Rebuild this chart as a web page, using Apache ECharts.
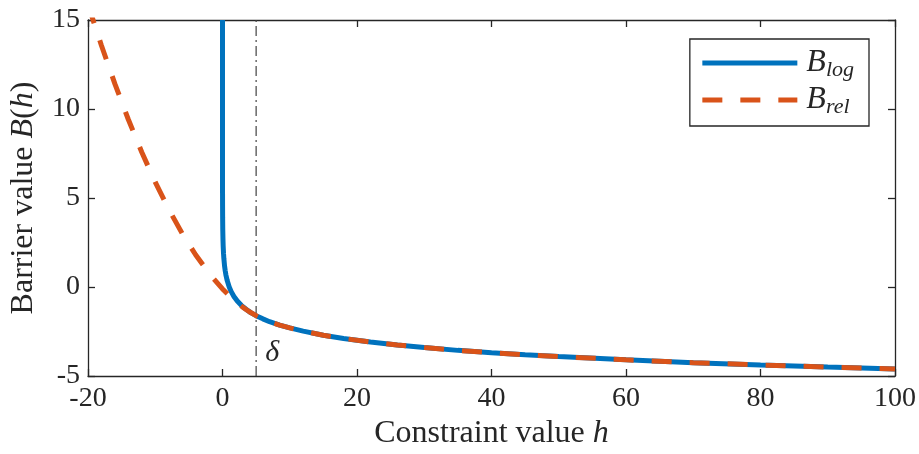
<!DOCTYPE html>
<html>
<head>
<meta charset="utf-8">
<script src="https://cdn.jsdelivr.net/npm/echarts@6/dist/echarts.min.js"></script>
<style>
  html, body { margin: 0; padding: 0; background: #fff; }
  #chart { width: 919px; height: 454px; }
</style>
</head>
<body>
<div id="chart"></div>
<script>
// values
const hLog = [0.0000003, 0.000001, 0.00001, 0.0001, 0.001, 0.005, 0.01, 0.02, 0.04, 0.07, 0.1, 0.15, 0.2, 0.3, 0.4, 0.5, 0.7, 1, 1.3, 1.7, 2.2, 2.8, 3.5, 4.2, 5, 6, 7, 8.5, 10, 12, 15, 18, 22, 26, 30, 35, 40, 45, 50, 60, 70, 80, 90, 100];
const bLog = [15, 13.8, 11.5, 9.2, 6.9, 5.3, 4.6, 3.91, 3.22, 2.66, 2.3, 1.9, 1.61, 1.2, 0.92, 0.69, 0.36, 0, -0.26, -0.53, -0.79, -1.03, -1.25, -1.44, -1.61, -1.79, -1.95, -2.14, -2.3, -2.48, -2.71, -2.89, -3.09, -3.26, -3.4, -3.56, -3.69, -3.81, -3.91, -4.09, -4.25, -4.38, -4.5, -4.61];

const hRel = [-20, -19, -18, -16, -14, -12, -10, -8, -6, -4, -2, 0, 1, 2, 3, 4, 5, 6, 7, 8.5, 10, 12, 15, 18, 22, 26, 30, 35, 40, 45, 50, 60, 70, 80, 90, 100];
const bRel = [15.89, 14.71, 13.57, 11.41, 9.41, 7.57, 5.89, 4.37, 3.01, 1.81, 0.77, -0.11, -0.49, -0.83, -1.13, -1.39, -1.61, -1.79, -1.95, -2.14, -2.3, -2.48, -2.71, -2.89, -3.09, -3.26, -3.4, -3.56, -3.69, -3.81, -3.91, -4.09, -4.25, -4.38, -4.5, -4.61];

const delta = 5;
const xTicks = [-20, 100, 20];  // min, max, step
const yTicks = [-5, 15, 5];

const axisColor = '#262626';
const font = '"Liberation Serif", "DejaVu Serif", serif';

const zip = (xs, ys) => xs.map((x, i) => [x, ys[i]]);

const chart = echarts.init(document.getElementById('chart'));

const baseAxis = {
  axisLine: { show: true, onZero: false, lineStyle: { color: axisColor, width: 1.3 } },
  axisTick: { show: true, inside: true, length: 7, lineStyle: { color: axisColor, width: 1.3 } },
  splitLine: { show: false }
};

const nameRich = {
  n: { fontFamily: font, fontSize: 32, color: axisColor },
  i: { fontFamily: font, fontSize: 32, color: axisColor, fontStyle: 'italic' }
};

chart.setOption({
  animation: false,
  grid: { left: 88, right: 24, top: 20, bottom: 78, outerBoundsMode: 'none', containLabel: false },
  xAxis: [
    Object.assign({}, baseAxis, {
      type: 'value', min: xTicks[0], max: xTicks[1], interval: xTicks[2],
      axisLabel: { color: axisColor, fontFamily: font, fontSize: 28, margin: 9 },
      name: '{n|Constraint value }{i|h}',
      nameLocation: 'middle', nameGap: 39,
      nameTextStyle: { rich: nameRich }
    }),
    Object.assign({}, baseAxis, {
      type: 'value', position: 'top', min: xTicks[0], max: xTicks[1], interval: xTicks[2],
      axisLabel: { show: false }
    })
  ],
  yAxis: [
    Object.assign({}, baseAxis, {
      type: 'value', min: yTicks[0], max: yTicks[1], interval: yTicks[2],
      axisLabel: { color: axisColor, fontFamily: font, fontSize: 28, margin: 8 },
      name: '{n|Barrier value }{i|B}{n|(}{i|h}{n|)}',
      nameLocation: 'middle', nameGap: 48, nameRotate: 90,
      nameTextStyle: { rich: nameRich }
    }),
    Object.assign({}, baseAxis, {
      type: 'value', position: 'right', min: yTicks[0], max: yTicks[1], interval: yTicks[2],
      axisLabel: { show: false }
    })
  ],
  legend: {
    orient: 'vertical',
    right: 50, top: 39,
    data: ['log', 'rel'],
    itemWidth: 95, itemHeight: 14, itemGap: 3,
    padding: [8, 15, 8, 10],
    borderColor: axisColor, borderWidth: 1.3, borderRadius: 0,
    itemStyle: { opacity: 0 },
    lineStyle: { width: 5 },
    formatter: name => '{b|B}{s|' + name + '}',
    textStyle: {
      rich: {
        b: { fontFamily: font, fontSize: 32, fontStyle: 'italic', color: axisColor, padding: [0, 0, 0, 4] },
        s: { fontFamily: font, fontSize: 22, fontStyle: 'italic', color: axisColor, padding: [14, 0, 0, 0] }
      }
    }
  },
  series: [
    {
      name: 'delta', type: 'line', symbol: 'none',
      data: [[delta, yTicks[0]], [delta, yTicks[1]]],
      lineStyle: { color: '#404040', width: 1.2, type: [10, 4, 2, 4] },
      markPoint: {
        symbol: 'circle', symbolSize: 0,
        data: [{ coord: [delta + 2.4, -3.7] }],
        label: { show: true, formatter: 'δ', fontFamily: font, fontStyle: 'italic', fontSize: 30, color: axisColor }
      },
      silent: true
    },
    {
      name: 'log', type: 'line', symbol: 'none',
      data: zip(hLog, bLog),
      itemStyle: { color: '#0072BD' },
      lineStyle: { color: '#0072BD', width: 5 }
    },
    {
      name: 'rel', type: 'line', symbol: 'none',
      data: zip(hRel, bRel),
      itemStyle: { color: '#D95319' },
      lineStyle: { color: '#D95319', width: 5, type: [20, 18] }
    }
  ]
});
</script>
</body>
</html>
